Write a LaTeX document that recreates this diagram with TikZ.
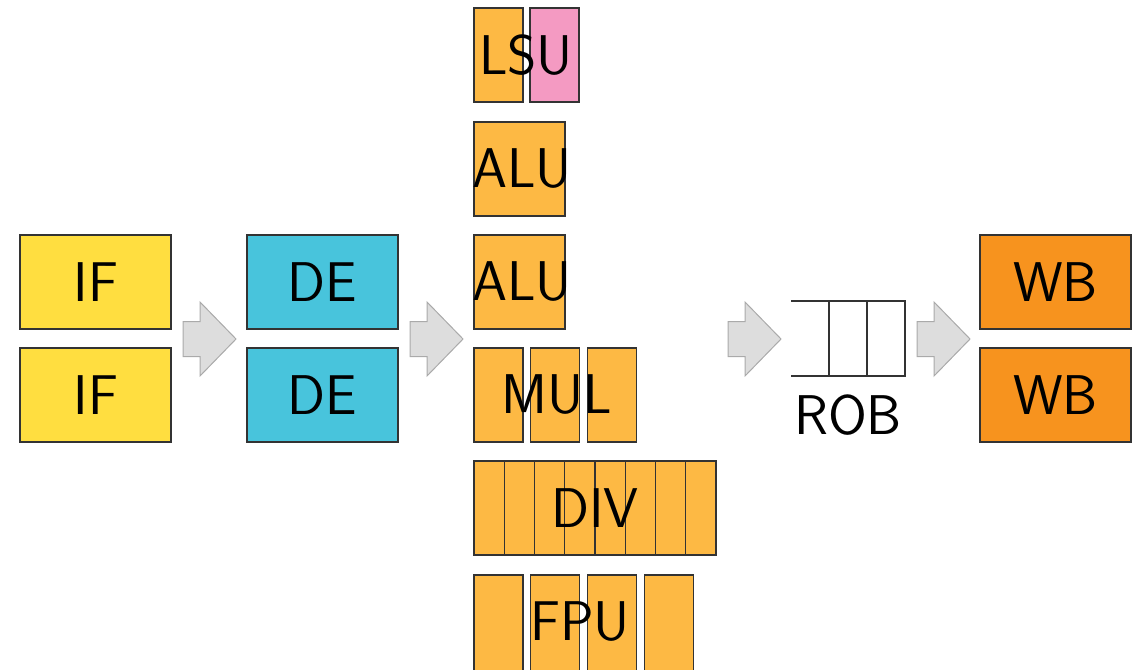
\documentclass[tikz,border=0pt]{standalone}
\usepackage{xcolor}

\definecolor{ifyellow}{HTML}{FFDE40}
\definecolor{decyan}{HTML}{48C4DC}
\definecolor{euorange}{HTML}{FDB944}
\definecolor{lsupink}{HTML}{F49AC2}
\definecolor{wborange}{HTML}{F7931E}
\definecolor{arrowfill}{HTML}{DDDDDD}
\definecolor{arrowline}{HTML}{AAAAAA}

\tikzset{
  stagebox/.style={draw=black!80, line width=0.6pt},
  unitname/.style={font=\sffamily\fontsize{28}{33}\selectfont, inner sep=0pt},
}

\begin{document}
\begin{tikzpicture}[x=0.5pt,y=-0.5pt]

  % Parameters
  \def\rowh{94}
  \def\slotw{49}
  \def\slotpitch{56.7}
  \def\divw{30.25}
  \useasboundingbox (0,0) rectangle (1138,669);

  % fetch, decode, writeback (two-wide)
  \foreach \y/\n in {235/1,348/2} {
    \filldraw[stagebox, fill=ifyellow] (20,\y) rectangle (171,\y+\rowh);
    \node[unitname] (if\n) at (96,\y+47) {IF};
    \filldraw[stagebox, fill=decyan] (247,\y) rectangle (398,\y+\rowh);
    \node[unitname] (de\n) at (322.5,\y+47) {DE};
    \filldraw[stagebox, fill=wborange] (980,\y) rectangle (1131,\y+\rowh);
    \node[unitname] (wb\n) at (1055.5,\y+47) {WB};
  }

  % stage arrows
  \foreach \x in {183,410,728,917} {
    \begin{scope}[shift={(\x,339)}]
      \filldraw[fill=arrowfill, draw=arrowline, line width=0.5pt]
      (0,-17.5) -- (17,-17.5) -- (17,-37) -- (53,0) -- (17,37) -- (17,17.5) -- (0,17.5) -- cycle;
    \end{scope}
  }

  % LSU
  \filldraw[stagebox, fill=euorange] (474,8) rectangle (474+\slotw,8+\rowh);
  \filldraw[stagebox, fill=lsupink] (530,8) rectangle (530+\slotw,8+\rowh);
  \node[unitname] (lsu) at (526,55) {LSU};

  % ALUs
  \foreach \y/\n in {122/1,235/2} {
    \filldraw[stagebox, fill=euorange] (474,\y) rectangle (565,\y+\rowh);
    \node[unitname] (alu\n) at (522,\y+47) {ALU};
  }

  % MUL, three stages
  \foreach \i in {0,1,2} {
    \filldraw[stagebox, fill=euorange] (474+\slotpitch*\i,348) rectangle ++(\slotw,\rowh);
  }
  \node[unitname] (mul) at (557,395) {MUL};

  % DIV, eight stages
  \filldraw[stagebox, fill=euorange] (474,461) rectangle (716,461+\rowh);
  \foreach \i in {1,...,7} {
    \draw[stagebox] (474+\divw*\i,461) -- ++(0,\rowh);
  }
  \node[unitname] (div) at (595,508) {DIV};

  % FPU, four stages
  \foreach \i in {0,1,2,3} {
    \filldraw[stagebox, fill=euorange] (474+\slotpitch*\i,575) rectangle ++(\slotw,96);
  }
  \node[unitname] (fpu) at (580,622) {FPU};

  % reorder buffer
  \draw[stagebox] (791,301) -- (905,301) -- (905,376) -- (791,376);
  \foreach \x in {829,867} {
    \draw[stagebox] (\x,301) -- (\x,376);
  }
  \node[unitname] (rob) at (848,415) {ROB};

\end{tikzpicture}
\end{document}
